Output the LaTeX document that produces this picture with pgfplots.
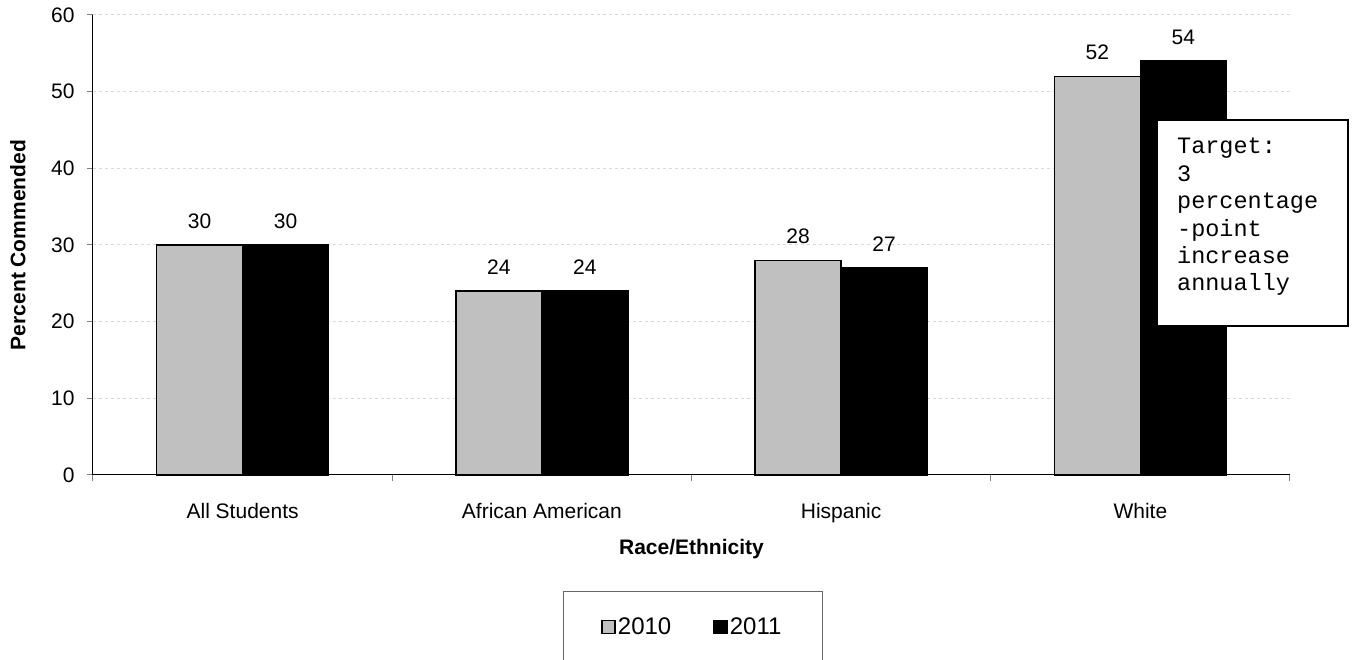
\documentclass[border=0pt]{standalone}
\usepackage{pgfplots}
\pgfplotsset{compat=1.18}
\usepackage{fontspec}
\setmainfont{Liberation Sans}
\newfontfamily\boxfont{Liberation Mono}
\definecolor{barGray}{HTML}{C0C0C0}
\definecolor{gridGray}{HTML}{D9D9D9}
\begin{document}
\begin{tikzpicture}
\begin{axis}[
  at={(0,0)}, anchor=south west,
  scale only axis, width=1197pt, height=460pt,
  xmin=-0.5, xmax=3.5, ymin=0, ymax=60,
  axis lines*=left,
  axis line style={black, line width=1pt},
  xtick={-0.5,0.5,1.5,2.5,3.5},
  x tick label as interval,
  xticklabels={All Students, African American, Hispanic, White},
  ytick={0,10,20,30,40,50,60},
  tick align=outside, major tick length=6pt,
  tick style={gray, line width=1pt},
  ymajorgrids, grid style={gridGray, dashed, line width=1pt},
  /pgf/number format/assume math mode=true,
  ticklabel style={font=\fontsize{21}{25}\selectfont},
  xticklabel style={yshift=-19pt},
  yticklabel style={xshift=-9pt},
  xlabel={\textbf{Race/Ethnicity}},
  ylabel={\textbf{Percent Commended}},
  label style={font=\fontsize{21}{25}\selectfont},
  xlabel style={at={(axis description cs:0.5,-0.161)}, anchor=center},
  ylabel style={at={(axis description cs:-0.0627,0.5)}, anchor=center},
  ybar=0pt, bar width=86pt,
  nodes near coords,
  every node near coord/.append style={font=\fontsize{21}{25}\selectfont, anchor=south, inner sep=0pt, yshift=16pt, black},
  clip=false,
  legend style={at={(axis description cs:0.5008,-0.330)}, anchor=center, draw=none, fill=none,
    font=\fontsize{24}{28}\selectfont, legend columns=2,
    /tikz/every even column/.style={column sep=40pt}},
  legend image code/.code={\draw[#1, line width=1.5pt] (0pt,-6.5pt) rectangle (13pt,6.5pt);},
]
\addplot[fill=barGray, draw=black, line width=1.5pt] coordinates {(0,30) (1,24) (2,28) (3,52)};
\addplot[fill=black, draw=black, line width=1.5pt] coordinates {(0,30) (1,24) (2,27) (3,54)};
\legend{2010,2011}
\draw[gray!80!black, line width=1pt] (axis description cs:0.3927,-0.2543) rectangle (axis description cs:0.6092,-0.45);
\draw[black, fill=white, line width=1.5pt] (rel axis cs:0.8889,0.3239) rectangle (rel axis cs:1.0485,0.7717);
\node[anchor=north west, inner sep=0pt, align=left, font=\boxfont\fontsize{23.5}{27.4}\selectfont]
  at (rel axis cs:0.9056,0.7326) {Target:\\3\\percentage\\-point\\increase\\annually};
\end{axis}
\pgfresetboundingbox
\path[use as bounding box] (-93pt,-185pt) rectangle (1264pt,475pt);
\end{tikzpicture}
\end{document}
